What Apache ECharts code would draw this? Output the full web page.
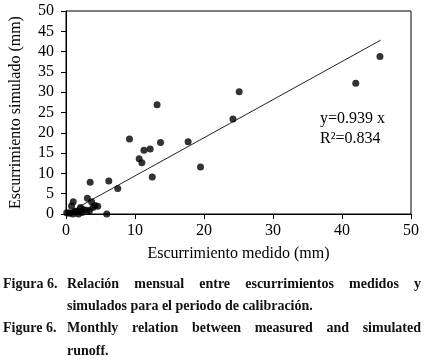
<!DOCTYPE html>
<html>
<head>
<meta charset="utf-8">
<script src="https://cdn.jsdelivr.net/npm/echarts@6/dist/echarts.min.js"></script>
<style>
  html, body { margin: 0; padding: 0; background: #fff; }
  #chart { width: 424px; height: 364px; }
</style>
</head>
<body>
<div id="chart"></div>
<script>
// measured runoff (mm) vs simulated runoff (mm), monthly
var medido = [
  45.5, 42.0, 25.1, 24.2, 13.2, 9.2, 13.7, 17.7, 11.3, 12.2,
  10.6, 11.0, 19.5, 12.5, 7.5, 6.2, 3.5, 3.1, 5.9, 1.05,
  0.8, 2.1, 3.7, 4.2, 4.6, 1.9, 3.0, 0.6, 0.1, 1.3,
  1.0, 1.8, 3.4, 2.5, 3.9, 0.4, 2.3, 1.5
];
var simulado = [
  38.8, 32.2, 30.1, 23.4, 26.9, 18.5, 17.6, 17.8, 15.7, 16.0,
  13.6, 12.6, 11.6, 9.1, 6.3, 8.1, 7.8, 3.9, 0.0, 3.0,
  2.0, 1.6, 3.0, 2.1, 1.9, 0.7, 0.9, 0.3, 0.3, 0.7,
  0.0, 0.0, 0.8, 1.1, 1.6, 0.2, 0.4, 0.5
];
var pendiente = 0.939;
var r2 = 0.834;
var lineaX = [0, 45.6];

var xTicks = [0, 10, 20, 30, 40, 50];
var yTicks = [0, 5, 10, 15, 20, 25, 30, 35, 40, 45, 50];

var captionLabels = ['Figura 6.', 'Figure 6.'];
var captionLines = [
  'Relación mensual entre escurrimientos medidos y',
  'simulados para el periodo de calibración.',
  'Monthly relation between measured and simulated',
  'runoff.'
];

var serif = '"Liberation Serif", "DejaVu Serif", serif';

(function () {
  var myChart = echarts.init(document.getElementById('chart'));

  var puntos = medido.map(function (x, i) { return [x, simulado[i]]; });
  var linea = lineaX.map(function (x) { return [x, pendiente * x]; });

  // justified caption lines built word by word
  var ctx = document.createElement('canvas').getContext('2d');
  var capFont = 'bold 14px ' + serif;
  ctx.font = capFont;
  var capLeft = 67, capRight = 421;
  var baselines = [288, 310, 332, 355];
  var justify = [true, false, true, false];
  var graphics = [];
  captionLabels.forEach(function (t, i) {
    graphics.push({
      type: 'text', left: 3, top: baselines[i * 2] - 11,
      style: { text: t, font: capFont, fill: '#111' }
    });
  });
  captionLines.forEach(function (line, i) {
    var words = line.split(' ');
    var total = 0;
    words.forEach(function (w) { total += ctx.measureText(w).width; });
    var gap = justify[i] ? (capRight - capLeft - total) / (words.length - 1) : ctx.measureText(' ').width;
    var x = capLeft;
    words.forEach(function (w) {
      graphics.push({
        type: 'text', left: x, top: baselines[i] - 11,
        style: { text: w, font: capFont, fill: '#111' }
      });
      x += ctx.measureText(w).width + gap;
    });
  });

  graphics.push({
    type: 'text', left: 320, top: 111,
    style: { text: 'y=' + pendiente + ' x', font: '16px ' + serif, fill: '#000' }
  });
  graphics.push({
    type: 'text', left: 320, top: 131,
    style: { text: 'R\u00b2=' + r2, font: '16px ' + serif, fill: '#000' }
  });

  var option = {
    animation: false,
    backgroundColor: '#fff',
    grid: {
      left: 63, right: 13, top: 11, bottom: 150,
      show: true, borderColor: '#000', borderWidth: 1
    },
    xAxis: {
      type: 'value', min: xTicks[0], max: xTicks[xTicks.length - 1], interval: 10,
      name: 'Escurrimiento medido (mm)', nameLocation: 'middle', nameGap: 32,
      nameTextStyle: { color: '#000', fontSize: 16, fontFamily: serif },
      axisLine: { lineStyle: { color: '#000', width: 1 } },
      axisTick: { show: true, length: 5, lineStyle: { color: '#000' } },
      axisLabel: { color: '#000', fontSize: 16, fontFamily: serif, margin: 9 },
      splitLine: { show: false }
    },
    yAxis: {
      type: 'value', min: yTicks[0], max: yTicks[yTicks.length - 1], interval: 5,
      name: 'Escurrimiento simulado (mm)', nameLocation: 'middle', nameGap: 42,
      nameTextStyle: { color: '#000', fontSize: 16, fontFamily: serif },
      axisLine: { show: true, lineStyle: { color: '#000', width: 1 } },
      axisTick: { show: true, length: 5, lineStyle: { color: '#000' } },
      axisLabel: { color: '#000', fontSize: 16, fontFamily: serif, margin: 12 },
      splitLine: { show: false }
    },
    series: [
      {
        type: 'line', data: linea, symbol: 'none',
        lineStyle: { color: '#222', width: 1 }, z: 1
      },
      {
        type: 'scatter', data: puntos, symbolSize: 7,
        itemStyle: { color: '#000' }, z: 2
      }
    ],
    graphic: graphics
  };

  myChart.setOption(option);
  window.addEventListener('resize', function () {
    myChart.resize();
  });
})();
</script>
</body>
</html>
